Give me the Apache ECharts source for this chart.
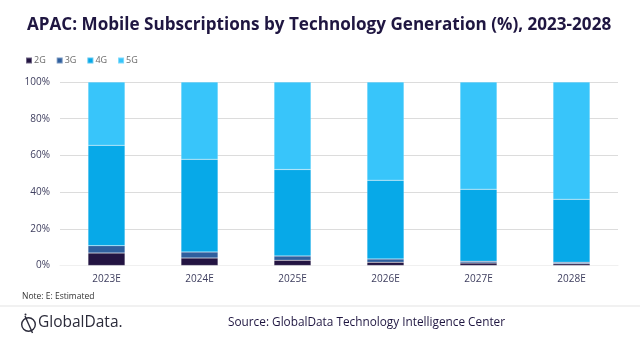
<!DOCTYPE html>
<html>
<head>
<meta charset="utf-8">
<script src="https://cdn.jsdelivr.net/npm/echarts@6/dist/echarts.min.js"></script>
<style>
html,body{margin:0;padding:0;background:#fff;}
#c{width:640px;height:343px;}
</style>
</head>
<body>
<div id="c"></div>
<script>
var categories = ['2023E','2024E','2025E','2026E','2027E','2028E'];
var g2 = [6.8, 4.1, 2.9, 1.8, 1.3, 0.9];
var g3 = [4.0, 3.3, 2.3, 1.8, 1.0, 0.9];
var g4 = [54.7, 50.5, 47.1, 42.9, 39.3, 34.3];
var g5 = [34.5, 42.1, 47.7, 53.5, 58.4, 63.9];
var seriesNames = ['2G','3G','4G','5G'];
var colors = ['#231442','#2f5f9e','#07a9e8','#38c5fa'];
var yTicks = [0, 20, 40, 60, 80, 100];

var chart = echarts.init(document.getElementById('c'), null, {renderer:'canvas'});
var data = [g2, g3, g4, g5];
var series = seriesNames.map(function(n, i){
  return {
    name: n, type: 'bar', stack: 'total', data: data[i],
    barWidth: 37,
    itemStyle: {color: colors[i], borderColor: 'rgba(255,255,255,0.35)', borderWidth: 0.5},
    emphasis: {disabled: true}
  };
});
var font = '"Open Sans", sans-serif';
chart.setOption({
  animation: false,
  color: colors,
  title: {
    text: 'APAC: Mobile Subscriptions by Technology Generation (%), 2023-2028',
    left: 22, top: 12,
    textStyle: {fontFamily: font, fontWeight: 'bold', fontSize: 17.1, color: '#1f1641'}
  },
  legend: {
    left: 20, top: 51, itemWidth: 6, itemHeight: 6, itemGap: 10,
    icon: 'rect',
    textStyle: {fontFamily: font, fontSize: 9, color: '#6a6a6a', padding: [0,0,0,-3]},
    data: seriesNames
  },
  grid: {left: 60, right: 22, top: 82, bottom: 77.5},
  xAxis: {
    type: 'category', data: categories,
    axisLine: {show: true, lineStyle: {color: '#f0f0f0'}},
    axisTick: {show: false},
    axisLabel: {fontFamily: font, fontSize: 10, color: '#404060', margin: 9}
  },
  yAxis: {
    type: 'value', min: yTicks[0], max: yTicks[yTicks.length-1], interval: 20,
    axisLine: {show: false}, axisTick: {show: false},
    splitLine: {lineStyle: {color: '#dcdcdc'}},
    axisLabel: {fontFamily: font, fontSize: 10, color: '#404060', margin: 10,
      formatter: function(v){ return v + '%'; }}
  },
  series: series,
  graphic: [
    {type: 'text', left: 22, top: 292, style: {text: 'Note: E: Estimated', font: '8.5px ' + font, fill: '#333333'}},
    {type: 'line', shape: {x1: 0, y1: 306, x2: 640, y2: 306}, style: {stroke: '#e3e3e3', lineWidth: 1}},
    {type: 'circle', shape: {cx: 28.5, cy: 324.5, r: 6.8}, style: {fill: 'none', stroke: '#2b2b3a', lineWidth: 1.4}},
    {type: 'line', shape: {x1: 25, y1: 316, x2: 32.5, y2: 333}, style: {stroke: '#2b2b3a', lineWidth: 1.4}},
    {type: 'circle', shape: {cx: 25.5, cy: 314.5, r: 1}, style: {fill: '#2b2b3a'}},
    {type: 'text', left: 38, top: 315, style: {text: 'GlobalData.', font: '15.5px ' + font, fill: '#2b2b3a'}},
    {type: 'text', left: 228, top: 317, style: {text: 'Source: GlobalData Technology Intelligence Center', font: '11.8px ' + font, fill: '#1f1641'}}
  ]
});
</script>
</body>
</html>
